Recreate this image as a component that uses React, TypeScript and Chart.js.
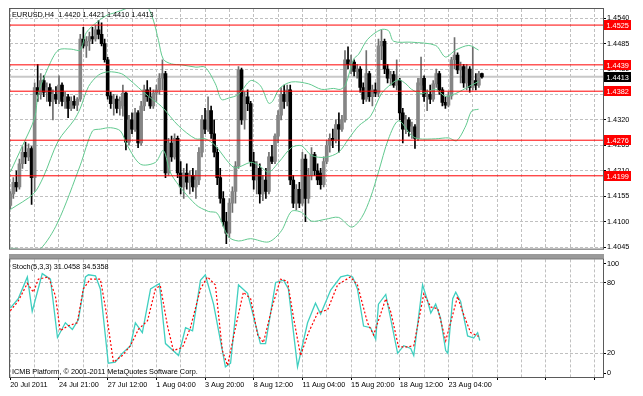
import React, { useEffect, useRef } from 'react';
import { Chart, registerables } from 'chart.js';

Chart.register(...registerables);

// ---------------- data ----------------
const symbolLabel = 'EURUSD,H4';

const opens = [
  1.4135, 1.4160, 1.4185, 1.4175, 1.4225, 1.4250, 1.4240, 1.4258, 1.4195, 1.4390,
  1.4375, 1.4405, 1.4380, 1.4390, 1.4360, 1.4375, 1.4365, 1.4395, 1.4360, 1.4370,
  1.4345, 1.4360, 1.4352, 1.4365, 1.4495, 1.4480, 1.4490, 1.4500, 1.4495, 1.4515,
  1.4505, 1.4485, 1.4450, 1.4372, 1.4355, 1.4365, 1.4345, 1.4350, 1.4378, 1.4272,
  1.4320, 1.4300, 1.4335, 1.4270, 1.4350, 1.4385, 1.4370, 1.4350, 1.4378, 1.4385,
  1.4410, 1.4420, 1.4205, 1.4270, 1.4240, 1.4280, 1.4205, 1.4175, 1.4205, 1.4185,
  1.4200, 1.4175, 1.4190, 1.4250, 1.4320, 1.4300, 1.4340, 1.4290, 1.4250, 1.4195,
  1.4150, 1.4100, 1.4075, 1.4140, 1.4165, 1.4220, 1.4428, 1.4320, 1.4370, 1.4355,
  1.4230, 1.4190, 1.4215, 1.4160, 1.4190, 1.4165, 1.4240, 1.4230, 1.4285, 1.4330,
  1.4375, 1.4360, 1.4385, 1.4190, 1.4140, 1.4170, 1.4140, 1.4235, 1.4150, 1.4200,
  1.4245, 1.4210, 1.4205, 1.4180, 1.4230, 1.4265, 1.4280, 1.4275, 1.4310, 1.4300,
  1.4320, 1.4450, 1.4440, 1.4445, 1.4425, 1.4430, 1.4390, 1.4365, 1.4420, 1.4370,
  1.4385, 1.4378, 1.4480, 1.4490, 1.4430, 1.4410, 1.4418, 1.4395, 1.4405, 1.4335,
  1.4300, 1.4320, 1.4295, 1.4305, 1.4280, 1.4395, 1.4410, 1.4370, 1.4375, 1.4365,
  1.4398, 1.4420, 1.4385, 1.4358, 1.4352, 1.4372, 1.4450, 1.4460, 1.4428, 1.4435,
  1.4400, 1.4430, 1.4390, 1.4405, 1.4395, 1.4420,
];
const highs = [
  1.4165, 1.4195, 1.4210, 1.4235, 1.4262, 1.4272, 1.4268, 1.4262, 1.4400, 1.4440,
  1.4420, 1.4415, 1.4400, 1.4398, 1.4385, 1.4392, 1.4415, 1.4400, 1.4380, 1.4375,
  1.4370, 1.4372, 1.4368, 1.4505, 1.4520, 1.4500, 1.4510, 1.4520, 1.4525, 1.4535,
  1.4530, 1.4495, 1.4455, 1.4380, 1.4375, 1.4372, 1.4370, 1.4395, 1.4380, 1.4330,
  1.4335, 1.4345, 1.4340, 1.4360, 1.4395, 1.4405, 1.4390, 1.4385, 1.4395, 1.4420,
  1.4450, 1.4425, 1.4280, 1.4285, 1.4290, 1.4285, 1.4230, 1.4215, 1.4225, 1.4210,
  1.4215, 1.4210, 1.4260, 1.4330, 1.4345, 1.4370, 1.4350, 1.4320, 1.4260, 1.4215,
  1.4165, 1.4120, 1.4150, 1.4175, 1.4230, 1.4435, 1.4432, 1.4380, 1.4385, 1.4360,
  1.4250, 1.4230, 1.4225, 1.4200, 1.4215, 1.4250, 1.4265, 1.4290, 1.4340, 1.4390,
  1.4395, 1.4395, 1.4395, 1.4200, 1.4180, 1.4185, 1.4250, 1.4245, 1.4215, 1.4260,
  1.4250, 1.4225, 1.4215, 1.4240, 1.4275, 1.4290, 1.4300, 1.4320, 1.4335, 1.4330,
  1.4470, 1.4478, 1.4460, 1.4450, 1.4440, 1.4435, 1.4400, 1.4470, 1.4425, 1.4395,
  1.4400, 1.4495, 1.4515, 1.4495, 1.4440, 1.4425, 1.4425, 1.4450, 1.4410, 1.4345,
  1.4330, 1.4325, 1.4315, 1.4310, 1.4410, 1.4456, 1.4415, 1.4385, 1.4395, 1.4405,
  1.4430, 1.4425, 1.4390, 1.4370, 1.4380, 1.4455, 1.4498, 1.4465, 1.4445, 1.4440,
  1.4440, 1.4435, 1.4478, 1.4420, 1.4425, 1.4421,
];
const lows = [
  1.4128, 1.4150, 1.4165, 1.4170, 1.4215, 1.4225, 1.4232, 1.4137, 1.4165, 1.4360,
  1.4365, 1.4370, 1.4360, 1.4350, 1.4320, 1.4355, 1.4355, 1.4350, 1.4345, 1.4325,
  1.4340, 1.4345, 1.4340, 1.4360, 1.4475, 1.4455, 1.4470, 1.4485, 1.4490, 1.4495,
  1.4480, 1.4445, 1.4365, 1.4345, 1.4330, 1.4335, 1.4330, 1.4328, 1.4255, 1.4265,
  1.4290, 1.4295, 1.4260, 1.4265, 1.4340, 1.4360, 1.4345, 1.4345, 1.4360, 1.4375,
  1.4385, 1.4195, 1.4200, 1.4230, 1.4235, 1.4195, 1.4160, 1.4150, 1.4170, 1.4160,
  1.4165, 1.4150, 1.4180, 1.4240, 1.4290, 1.4295, 1.4280, 1.4240, 1.4180, 1.4140,
  1.4090, 1.4052, 1.4065, 1.4120, 1.4140, 1.4215, 1.4310, 1.4300, 1.4340, 1.4220,
  1.4170, 1.4160, 1.4140, 1.4145, 1.4150, 1.4160, 1.4225, 1.4225, 1.4270, 1.4320,
  1.4345, 1.4350, 1.4180, 1.4130, 1.4125, 1.4130, 1.4135, 1.4100, 1.4140, 1.4190,
  1.4200, 1.4180, 1.4170, 1.4175, 1.4225, 1.4250, 1.4260, 1.4270, 1.4250, 1.4295,
  1.4315, 1.4430, 1.4420, 1.4415, 1.4410, 1.4380, 1.4355, 1.4360, 1.4360, 1.4350,
  1.4370, 1.4370, 1.4450, 1.4420, 1.4400, 1.4395, 1.4390, 1.4385, 1.4320, 1.4270,
  1.4290, 1.4285, 1.4280, 1.4258, 1.4275, 1.4385, 1.4360, 1.4340, 1.4355, 1.4360,
  1.4390, 1.4375, 1.4350, 1.4345, 1.4348, 1.4365, 1.4430, 1.4420, 1.4400, 1.4390,
  1.4385, 1.4380, 1.4385, 1.4385, 1.4390, 1.4410,
];
const closes = [
  1.4160, 1.4185, 1.4175, 1.4225, 1.4250, 1.4240, 1.4258, 1.4195, 1.4390, 1.4375,
  1.4405, 1.4380, 1.4390, 1.4360, 1.4375, 1.4365, 1.4395, 1.4360, 1.4370, 1.4345,
  1.4360, 1.4352, 1.4365, 1.4495, 1.4480, 1.4490, 1.4500, 1.4495, 1.4515, 1.4505,
  1.4485, 1.4450, 1.4372, 1.4355, 1.4365, 1.4345, 1.4360, 1.4378, 1.4272, 1.4320,
  1.4300, 1.4335, 1.4270, 1.4350, 1.4385, 1.4370, 1.4350, 1.4378, 1.4385, 1.4410,
  1.4420, 1.4205, 1.4270, 1.4240, 1.4280, 1.4205, 1.4175, 1.4205, 1.4185, 1.4200,
  1.4175, 1.4190, 1.4250, 1.4320, 1.4300, 1.4340, 1.4290, 1.4250, 1.4195, 1.4150,
  1.4100, 1.4075, 1.4140, 1.4165, 1.4220, 1.4428, 1.4320, 1.4370, 1.4355, 1.4230,
  1.4190, 1.4215, 1.4160, 1.4190, 1.4165, 1.4240, 1.4230, 1.4285, 1.4330, 1.4375,
  1.4360, 1.4385, 1.4190, 1.4140, 1.4170, 1.4140, 1.4235, 1.4150, 1.4200, 1.4245,
  1.4210, 1.4190, 1.4180, 1.4230, 1.4265, 1.4280, 1.4275, 1.4310, 1.4300, 1.4320,
  1.4450, 1.4440, 1.4445, 1.4425, 1.4430, 1.4390, 1.4365, 1.4420, 1.4370, 1.4385,
  1.4378, 1.4480, 1.4490, 1.4430, 1.4410, 1.4418, 1.4395, 1.4405, 1.4335, 1.4300,
  1.4320, 1.4295, 1.4305, 1.4280, 1.4400, 1.4410, 1.4370, 1.4375, 1.4365, 1.4398,
  1.4420, 1.4385, 1.4358, 1.4352, 1.4372, 1.4450, 1.4460, 1.4428, 1.4435, 1.4400,
  1.4430, 1.4390, 1.4405, 1.4395, 1.4420, 1.4413,
];

// Bollinger bands, read at [bar index, price]
const upperBand = [
  [0, 1.4207], [4, 1.4264], [8, 1.4324], [9.2, 1.4377], [12.5, 1.4434], [15.8, 1.4471],
  [20, 1.4473], [23, 1.4471], [25, 1.4509], [29, 1.4534], [32, 1.4547], [34, 1.4551],
  [38.5, 1.4562], [42, 1.4575], [45, 1.4565], [47, 1.4536], [48.7, 1.4492], [50.3, 1.4451],
  [53, 1.4441], [56.3, 1.4439], [61, 1.4434], [64, 1.4434], [67.4, 1.4398], [69.4, 1.4364],
  [71.7, 1.4367], [75, 1.4375], [79, 1.4405], [82.2, 1.4394], [84.9, 1.4356], [86.2, 1.4360],
  [88.5, 1.4388], [92.4, 1.4402], [98, 1.4398], [102.3, 1.4386], [106.2, 1.4388], [108.5, 1.4386],
  [110.2, 1.4396], [112.8, 1.4451], [114.5, 1.4462], [117.4, 1.4494], [121.7, 1.4515], [124.3, 1.4513],
  [126, 1.4490], [131.9, 1.4488], [139.8, 1.4481], [143, 1.4456], [146.4, 1.4471], [150.7, 1.4481],
  [153.9, 1.4471],
];
const middleBand = [
  [0, 1.4126], [7.6, 1.4160], [10.9, 1.4197], [15.8, 1.4275], [21, 1.4320], [23, 1.4345],
  [25.7, 1.4392], [29, 1.4417], [32.2, 1.4424], [36.5, 1.4420], [38.8, 1.4409], [45.4, 1.4371],
  [49.7, 1.4349], [55.3, 1.4307], [60.9, 1.4279], [64.1, 1.4279], [67.4, 1.4264], [71.7, 1.4228],
  [74, 1.4216], [79, 1.4228], [81.6, 1.4222], [84.9, 1.4207], [88.2, 1.4228], [92.4, 1.4260],
  [95.7, 1.4264], [99, 1.4243], [103.6, 1.4239], [107.9, 1.4250], [111.2, 1.4279], [114.5, 1.4307],
  [118.4, 1.4328], [122, 1.4377], [125.3, 1.4398], [127.6, 1.4407], [130, 1.4398], [131.9, 1.4386],
  [135.2, 1.4377], [139.8, 1.4386], [143, 1.4371], [146.4, 1.4377], [150.7, 1.4392], [153.9, 1.4403],
];
const lowerBand = [
  [0, 1.4042], [2.5, 1.4041], [5, 1.4030], [9.9, 1.4041], [15.5, 1.4097], [23, 1.4222],
  [27, 1.4296], [29.6, 1.4300], [33, 1.4303], [36.2, 1.4296], [38.5, 1.4264], [42.8, 1.4224],
  [47.7, 1.4228], [50.3, 1.4254], [53, 1.4201], [60.9, 1.4137], [65.1, 1.4122], [68, 1.4118],
  [71.7, 1.4067], [75, 1.4058], [79, 1.4063], [84.9, 1.4056], [89.1, 1.4080], [92.4, 1.4122],
  [95.7, 1.4120], [99, 1.4101], [103.6, 1.4105], [107.9, 1.4109], [112.2, 1.4088], [115.5, 1.4109],
  [118.4, 1.4152], [121, 1.4207], [124.3, 1.4279], [127.6, 1.4318], [131.9, 1.4286], [134.2, 1.4279],
  [139.8, 1.4279], [144, 1.4281], [146.7, 1.4275], [149.7, 1.4307], [151.6, 1.4339], [153.9, 1.4343],
];

// horizontal levels
const redLevels = [1.4525, 1.4439, 1.4382, 1.4276, 1.4199];
const bidPrice = 1.4413;
const priceTicks = [1.4045, 1.41, 1.4155, 1.421, 1.4265, 1.432, 1.4375, 1.443, 1.4485, 1.454];

// stochastic (5,3,3) at [bar index, value]
const stochMain = [
  [0, 58.6], [2.6, 66.5], [5.6, 85.1], [7.2, 55.8], [10.5, 87.9], [13.2, 83.2], [15.5, 33.6], [18.1, 46.1],
  [20.4, 40.5], [22.4, 48.8], [24.7, 85.1], [25.7, 86.9], [28, 86.0], [29.6, 74.9], [32.2, 11.7], [34.5, 12.6],
  [36.8, 20.1], [39.5, 26.6], [41.1, 46.1], [43.4, 37.7], [46.1, 74.9], [49, 79.5], [51, 28.4], [55.3, 18.2],
  [57.6, 41.9], [59.9, 39.2], [62.5, 82.3], [64.1, 86.9], [66.8, 61.9], [70.7, 8.6], [72.4, 11.7], [75, 78.3],
  [78, 71.1], [82.2, 28.4], [83.9, 28.4], [87.2, 80.4], [89.8, 82.3], [91.4, 74.9], [94.4, 8.6], [97.7, 46.1],
  [100.3, 62.8], [102, 53.5], [105.3, 73.9], [108.6, 85.1], [110.9, 86.6], [112.5, 85.1], [114.1, 74.9], [116.1, 43.3],
  [118.4, 41.9], [120.1, 32.1], [121, 61.9], [123.4, 70.2], [127.3, 20.1], [129.3, 26.6], [131.6, 24.3], [132.6, 18.2],
  [135.5, 78.3], [137.2, 64.2], [138.2, 54.4], [139.8, 61.9], [141.4, 50.2], [143.1, 22.5], [143.8, 20.1],
  [145.4, 66.5], [146.4, 72.1], [148, 64.2], [150.3, 34.9], [152.3, 33.1], [153.6, 37.7], [154.3, 31.0458],
];
const stochSignal = [
  [0, 56.3], [2.6, 64.6], [5.6, 79.5], [7.6, 72.1], [9.2, 83.2], [12.5, 85.1], [14.8, 69.3], [16.4, 39.2],
  [18.8, 43.3], [22, 46.1], [24, 74.9], [26.3, 83.2], [29.6, 83.2], [31.3, 58.6], [33.9, 12.6], [36.8, 18.2],
  [39.5, 26.6], [42.1, 40.5], [45.1, 47.9], [47.7, 74.9], [49.3, 77.7], [51.6, 44.2], [53.6, 22.5], [56.6, 25.2],
  [59.2, 41.9], [62.5, 74.9], [64.8, 85.1], [67.4, 78.3], [69.7, 22.5], [71.4, 9.8], [74, 41.9], [76.6, 72.1],
  [79, 66.5], [81.3, 35.8], [83.2, 29.3], [86.2, 60.9], [88.8, 83.2], [91.1, 81.4], [93.1, 50.2], [95.4, 18.2],
  [98, 37.7], [101, 54.4], [104.3, 57.2], [107.6, 78.6], [111.8, 85.1], [114.1, 78.3], [117.4, 46.1], [119.4, 35.8],
  [123.4, 66.5], [125, 55.8], [127.6, 25.6], [130.6, 25.6], [132.6, 26.6], [135.9, 70.7], [138.2, 59.5],
  [140.5, 58.1], [143.1, 30.8], [147, 68.4], [148.8, 54.4], [151.3, 37.7], [153.9, 34.5358],
];
// grid levels and labels of the stochastic axis ([position value, label])
const stochGrid = [20, 80];
const stochTickLabels = [[3.3, '0'], [20, '20'], [80, '80'], [96.3, '100']];
const stochLabel = 'Stoch(5,3,3) 31.0458 34.5358';
const copyright = 'ICMB Platform, \u00A9 2001-2011 MetaQuotes Software Corp.';

// time axis labels, one every 16 bars
const timeLabels = [
  '20 Jul 2011', '24 Jul 21:00', '27 Jul 12:00', '1 Aug 04:00', '3 Aug 20:00',
  '8 Aug 12:00', '11 Aug 04:00', '15 Aug 20:00', '18 Aug 12:00', '23 Aug 04:00',
];

// ---------------- styling ----------------
const FONT = '"Liberation Sans", Arial, sans-serif';
const FS = 7.3;
const X_MIN = -0.1;
const X_MAX = 194.8;
const GRID = '#c0c0c0';
const BAND = '#62c98f';
const FRAME = '#5a5a5a';

const xGridTicks = (scale: any) => {
  const t: any[] = [];
  for (let v = 0; v <= 192; v += 8) t.push({ value: v });
  scale.ticks = t;
};

const toPts = (arr: number[][]) => arr.map(([x, y]) => ({ x, y }));

function mainConfig(): any {
  const n = closes.length;
  const idx = Array.from({ length: n }, (_, i) => i);
  const up = idx.map((i) => closes[i] >= opens[i]);
  const datasets: any[] = [];
  redLevels.forEach((v) =>
    datasets.push({
      type: 'line',
      data: [{ x: X_MIN, y: v }, { x: X_MAX, y: v }],
      borderColor: '#ff0000',
      borderWidth: 1,
      pointRadius: 0,
      order: 0,
    })
  );
  [upperBand, middleBand, lowerBand].forEach((b) =>
    datasets.push({
      type: 'line',
      data: toPts(b),
      borderColor: BAND,
      borderWidth: 1,
      pointRadius: 0,
      tension: 0.3,
      order: 1,
    })
  );
  datasets.push({
    type: 'bar',
    data: idx.map((i) => ({ x: i, y: [Math.min(opens[i], closes[i]), Math.max(opens[i], closes[i])] })),
    backgroundColor: idx.map((i) => (up[i] ? '#858585' : '#000000')),
    barThickness: 3,
    minBarLength: 1,
    grouped: false,
    order: 2,
  });
  datasets.push({
    type: 'bar',
    data: idx.map((i) => ({ x: i, y: [lows[i], highs[i]] })),
    backgroundColor: idx.map((i) => (up[i] ? '#6e6e6e' : '#000000')),
    barThickness: 1,
    grouped: false,
    order: 3,
  });
  datasets.push({
    type: 'line',
    data: [{ x: X_MIN, y: bidPrice }, { x: X_MAX, y: bidPrice }],
    borderColor: '#c8c8c8',
    borderWidth: 2,
    pointRadius: 0,
    order: 5,
  });

  const last = n - 1;
  const header = `${symbolLabel}  ${opens[last].toFixed(4)} ${highs[last].toFixed(4)} ${lows[last].toFixed(4)} ${closes[last].toFixed(4)}`;

  const deco = {
    id: 'mainDeco',
    afterDraw(chart: any) {
      const { ctx, chartArea: a } = chart;
      const y = chart.scales.y;
      ctx.save();
      ctx.strokeStyle = FRAME;
      ctx.lineWidth = 1;
      ctx.strokeRect(a.left - 0.5, a.top - 0.5, a.right - a.left + 1, a.bottom - a.top + 1);
      ctx.font = `${FS}px ${FONT}`;
      ctx.textBaseline = 'middle';
      ctx.textAlign = 'left';
      ctx.fillStyle = '#000';
      ctx.fillText(header, 12, 15);
      const box = (v: number, bg: string) => {
        const py = Math.round(y.getPixelForValue(v));
        ctx.fillStyle = bg;
        ctx.fillRect(a.right + 1, py - 5, 27, 10);
        ctx.fillStyle = '#fff';
        ctx.fillText(v.toFixed(4), a.right + 3.5, py + 0.5);
      };
      redLevels.forEach((v) => box(v, '#ff0000'));
      box(bidPrice, '#000000');
      ctx.restore();
    },
  };

  return {
    type: 'line',
    data: { datasets },
    options: {
      animation: false,
      responsive: false,
      devicePixelRatio: 1,
      events: [],
      layout: { padding: { left: 10, top: 9, right: 0, bottom: 0 } },
      plugins: { legend: { display: false }, tooltip: { enabled: false } },
      scales: {
        x: {
          type: 'linear',
          min: X_MIN,
          max: X_MAX,
          offset: false,
          afterBuildTicks: xGridTicks,
          afterFit: (s: any) => { s.height = 1; },
          ticks: { display: false },
          grid: { color: GRID, drawTicks: false, offset: false },
          border: { display: false, dash: [3, 2] },
        },
        y: {
          type: 'linear',
          position: 'right',
          min: 1.40415,
          max: 1.45598,
          beginAtZero: false,
          afterBuildTicks: (s: any) => { s.ticks = priceTicks.map((v) => ({ value: v })); },
          afterFit: (s: any) => { s.width = 40; },
          ticks: {
            callback: (v: any) => Number(v).toFixed(4),
            font: { family: FONT, size: FS },
            color: '#000',
            padding: 1,
            autoSkip: false,
          },
          grid: { color: GRID, tickLength: 3, tickColor: '#000' },
          border: { display: false, dash: [3, 2] },
        },
      },
    },
    plugins: [deco],
  };
}

function stochConfig(): any {
  const deco = {
    id: 'stochDeco',
    beforeDraw(chart: any) {
      const { ctx, chartArea: a } = chart;
      ctx.save();
      ctx.fillStyle = '#9a9a9a';
      ctx.fillRect(a.left - 1, 0, a.right - a.left + 2, a.top - 1);
      ctx.restore();
    },
    afterDraw(chart: any) {
      const { ctx, chartArea: a } = chart;
      ctx.save();
      ctx.strokeStyle = FRAME;
      ctx.lineWidth = 1;
      ctx.strokeRect(a.left - 0.5, a.top - 0.5, a.right - a.left + 1, a.bottom - a.top + 1);
      ctx.font = `${FS}px ${FONT}`;
      ctx.textBaseline = 'middle';
      ctx.textAlign = 'left';
      ctx.fillStyle = '#000';
      ctx.fillText(stochLabel, 12, a.top + 8);
      ctx.fillText(copyright, 12, a.bottom - 5.5);
      ctx.restore();
    },
  };
  return {
    type: 'line',
    data: {
      datasets: [
        {
          data: toPts(stochSignal),
          borderColor: '#ff0000',
          borderWidth: 1.2,
          borderDash: [2, 2],
          pointRadius: 0,
          order: 0,
        },
        {
          data: toPts(stochMain),
          borderColor: '#40cfc0',
          borderWidth: 1.3,
          pointRadius: 0,
          order: 1,
        },
      ],
    },
    options: {
      animation: false,
      responsive: false,
      devicePixelRatio: 1,
      events: [],
      layout: { padding: { left: 10, top: 3, right: 0, bottom: 0 } },
      plugins: { legend: { display: false }, tooltip: { enabled: false } },
      scales: {
        x: {
          type: 'linear',
          min: X_MIN,
          max: X_MAX,
          offset: false,
          afterBuildTicks: xGridTicks,
          afterFit: (s: any) => { s.height = 19; },
          ticks: {
            callback: (v: any) => {
              const k = Math.round(Number(v));
              return k % 16 === 0 && timeLabels[k / 16] ? timeLabels[k / 16] : '';
            },
            align: 'start',
            maxRotation: 0,
            minRotation: 0,
            autoSkip: false,
            font: { family: FONT, size: FS },
            color: '#000',
            padding: 1,
          },
          grid: {
            color: GRID,
            tickLength: 3,
            tickColor: (c: any) => (c.tick && Math.round(c.tick.value) % 16 === 0 ? '#000' : 'rgba(0,0,0,0)'),
            offset: false,
          },
          border: { display: false, dash: [3, 2] },
        },
        y: {
          type: 'linear',
          position: 'right',
          min: 0,
          max: 100,
          afterBuildTicks: (s: any) => { s.ticks = stochTickLabels.map(([v]) => ({ value: v as number })); },
          afterFit: (s: any) => { s.width = 40; },
          ticks: {
            callback: (v: any) => {
              const f = stochTickLabels.find(([p]) => Math.abs((p as number) - Number(v)) < 1e-6);
              return f ? (f[1] as string) : '';
            },
            font: { family: FONT, size: FS },
            color: '#000',
            padding: 1,
            autoSkip: false,
          },
          grid: {
            color: (c: any) => (c.tick && stochGrid.includes(c.tick.value) ? GRID : 'rgba(0,0,0,0)'),
            tickLength: 3,
            tickColor: '#000',
          },
          border: { display: false, dash: [3, 2] },
        },
      },
    },
    plugins: [deco],
  };
}

export default function App() {
  const mainRef = useRef<HTMLCanvasElement>(null);
  const stochRef = useRef<HTMLCanvasElement>(null);
  useEffect(() => {
    const m = new Chart(mainRef.current as HTMLCanvasElement, mainConfig());
    const s = new Chart(stochRef.current as HTMLCanvasElement, stochConfig());
    return () => {
      m.destroy();
      s.destroy();
    };
  }, []);
  return (
    <div style={{ position: 'fixed', left: 0, top: 0, width: 643, height: 396, background: '#fff', overflow: 'hidden' }}>
      <canvas ref={mainRef} width={643} height={254} style={{ position: 'absolute', left: 0, top: 0, width: 643, height: 254 }} />
      <canvas ref={stochRef} width={643} height={142} style={{ position: 'absolute', left: 0, top: 254, width: 643, height: 142 }} />
    </div>
  );
}
